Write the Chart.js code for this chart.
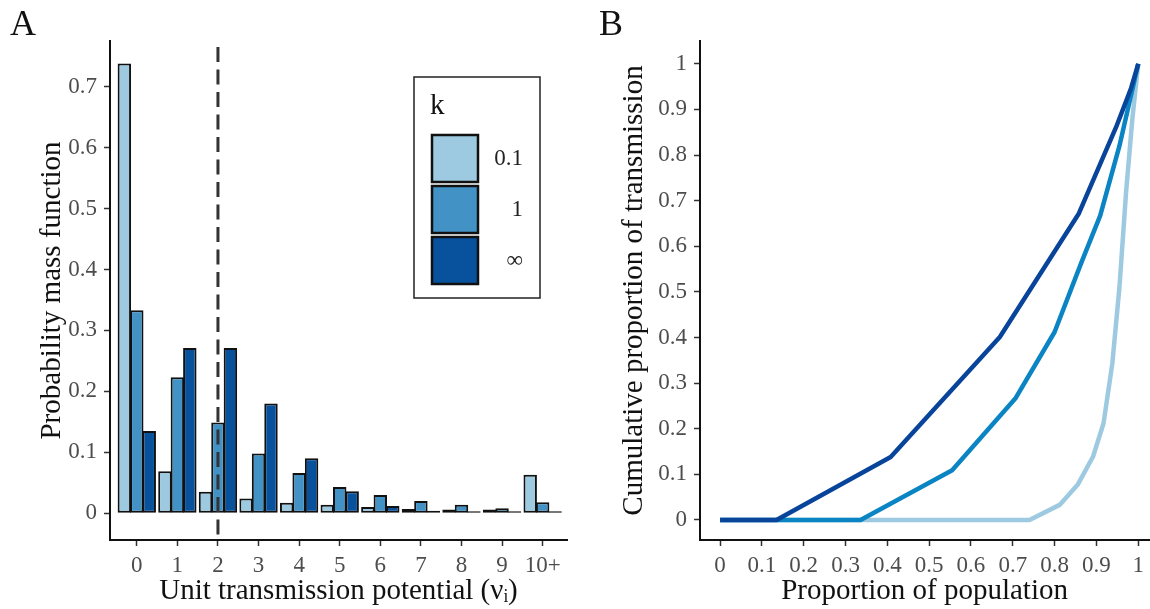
<!DOCTYPE html>
<html>
<head>
<meta charset="utf-8">
<script src="https://cdn.jsdelivr.net/npm/chart.js@4.4.1/dist/chart.umd.min.js"></script>
<style>
  html, body { margin: 0; padding: 0; background: #fff; }
  #wrap { position: relative; width: 1150px; height: 609px; overflow: hidden; }
  canvas { position: absolute; top: 0; }
  #chartA { left: 0; }
  #chartB { left: 580px; }
  .letter { position: absolute; top: 5px; font-family: "Liberation Serif", serif; font-size: 36px; line-height: 36px; color: #111; }
</style>
</head>
<body>
<div id="wrap">
  <canvas id="chartA" width="580" height="609"></canvas>
  <canvas id="chartB" width="570" height="609"></canvas>
  <div class="letter" style="left:10px">A</div>
  <div class="letter" style="left:599px">B</div>
</div>
<script>
// -------------------------------
// Daten Panel A (Balken)
// -------------------------------
const xLabels = ["0", "1", "2", "3", "4", "5", "6", "7", "8", "9", "10+"];
const kLabels = ["0.1", "1", "\u221E"];
const pmfK01 = [0.738, 0.069, 0.035, 0.024, 0.017, 0.014, 0.010, 0.007, 0.006, 0.006, 0.063];
const pmfK1 = [0.333, 0.223, 0.149, 0.098, 0.066, 0.043, 0.030, 0.020, 0.014, 0.008, 0.018];
const pmfKinf = [0.135, 0.271, 0.271, 0.180, 0.090, 0.036, 0.012, 0.004, 0.001, 0.0003, 0.0001];
const yTicksA = [0, 0.1, 0.2, 0.3, 0.4, 0.5, 0.6, 0.7];
const meanValue = 2;

// -------------------------------
// Daten Panel B (Linien)
// -------------------------------
const popKinf = [0, 0.135, 0.408, 0.669, 0.858, 0.947, 0.983, 1];
const cumKinf = [0, 0, 0.138, 0.401, 0.672, 0.861, 0.947, 1];
const popK1 = [0, 0.336, 0.555, 0.706, 0.800, 0.863, 0.909, 0.955, 1];
const cumK1 = [0, 0, 0.109, 0.266, 0.412, 0.562, 0.667, 0.82, 1];
const popK01 = [0, 0.74, 0.812, 0.855, 0.892, 0.917, 0.938, 0.955, 0.971, 0.986, 1];
const cumK01 = [0, 0, 0.033, 0.077, 0.139, 0.212, 0.343, 0.51, 0.72, 0.88, 1];
const xTicksB = [0, 0.1, 0.2, 0.3, 0.4, 0.5, 0.6, 0.7, 0.8, 0.9, 1];
const yTicksB = [0, 0.1, 0.2, 0.3, 0.4, 0.5, 0.6, 0.7, 0.8, 0.9, 1];

const barColors = ["#9ecae1", "#4292c6", "#08519c"];
const lineColors = ["#9ecae1", "#0b84c4", "#08459a"];

Chart.defaults.font.family = '"Liberation Serif", "Times New Roman", serif';
Chart.defaults.animation = false;

const tickFont = { size: 23 };
const titleFont = { size: 29 };

function axisBase(ticksArr, labelFn) {
    return {
        type: "linear",
        offset: false,
        afterBuildTicks: s => { s.ticks = ticksArr.map(v => ({ value: v })); },
        grid: { drawOnChartArea: false, drawTicks: true, tickLength: 6, tickColor: "#333", tickWidth: 1.5, offset: false },
        border: { display: true, color: "#111", width: 2 },
        ticks: { font: tickFont, color: "#4d4d4d", autoSkip: false, maxRotation: 0, callback: labelFn }
    };
}

// -------------------------------
// Plugins Panel A
// -------------------------------
const meanLinePlugin = {
    id: "meanLine",
    afterDatasetsDraw(chart) {
        const { ctx, chartArea, scales } = chart;
        const x = scales.x.getPixelForValue(meanValue);
        ctx.save();
        ctx.strokeStyle = "#333";
        ctx.lineWidth = 3;
        ctx.setLineDash([15, 7.5]);
        ctx.lineDashOffset = 17;
        ctx.beginPath();
        ctx.moveTo(x, chartArea.bottom);
        ctx.lineTo(x, chartArea.top);
        ctx.stroke();
        ctx.restore();
    }
};

const kLegendPlugin = {
    id: "kLegend",
    afterDraw(chart) {
        const ctx = chart.ctx;
        ctx.save();
        ctx.strokeStyle = "#222";
        ctx.lineWidth = 1.5;
        ctx.strokeRect(414, 77, 126, 221);
        ctx.fillStyle = "#111";
        ctx.font = '29px "Liberation Serif", serif';
        ctx.textBaseline = "alphabetic";
        ctx.textAlign = "left";
        ctx.fillText("k", 430, 114);
        kLabels.forEach((lab, i) => {
            const y = 135 + i * 51;
            ctx.fillStyle = barColors[i];
            ctx.fillRect(432, y, 46, 47);
            ctx.strokeStyle = "#111";
            ctx.lineWidth = 2.5;
            ctx.strokeRect(432, y, 46, 47);
            ctx.fillStyle = "#222";
            ctx.font = '23px "Liberation Serif", serif';
            ctx.textAlign = "right";
            ctx.textBaseline = "middle";
            ctx.fillText(lab, 523, y + 24);
        });
        ctx.restore();
    }
};

// -------------------------------
// Panel A
// -------------------------------
const pmfSeries = [pmfK01, pmfK1, pmfKinf];

const xA = axisBase(xLabels.map((_, i) => i), (v, i) => xLabels[i]);
xA.min = -0.66;
xA.max = 10.6;
xA.ticks.padding = 6;
xA.afterFit = s => { s.height = 69; };
xA.title = { display: true, text: "Unit transmission potential (\u03BD\u1D62)", font: titleFont, color: "#111", padding: { top: 0, bottom: 0 } };

const yA = axisBase(yTicksA, v => (v === 0 ? "0" : v.toFixed(1)));
yA.min = -0.044;
yA.max = 0.775;
yA.ticks.padding = 7;
yA.afterFit = s => { s.width = 110; };
yA.title = { display: true, text: "Probability mass function", font: titleFont, color: "#111", padding: { top: 35, bottom: 0 } };

new Chart(document.getElementById("chartA"), {
    type: "bar",
    data: {
        datasets: pmfSeries.map((arr, i) => ({
            label: kLabels[i],
            data: arr.map((v, j) => ({ x: j, y: v })),
            backgroundColor: barColors[i],
            borderColor: "#111",
            borderWidth: 2,
            borderSkipped: false,
            minBarLength: 2,
            categoryPercentage: 0.92,
            barPercentage: 1.08
        }))
    },
    options: {
        responsive: false,
        layout: { padding: { top: 41, right: 13, left: 0, bottom: 0 } },
        plugins: { legend: { display: false }, tooltip: { enabled: false } },
        scales: { x: xA, y: yA }
    },
    plugins: [meanLinePlugin, kLegendPlugin]
});

// -------------------------------
// Panel B
// -------------------------------
const xB = axisBase(xTicksB, v => String(v));
xB.min = -0.048;
xB.max = 1.026;
xB.ticks.padding = 6;
xB.afterFit = s => { s.height = 69; };
xB.title = { display: true, text: "Proportion of population", font: titleFont, color: "#111", padding: { top: 0, bottom: 0 } };

const yB = axisBase(yTicksB, v => String(v));
yB.min = -0.044;
yB.max = 1.05;
yB.ticks.padding = 7;
yB.afterFit = s => { s.width = 120; };
yB.title = { display: true, text: "Cumulative proportion of transmission", font: titleFont, color: "#111", padding: { top: 37, bottom: 0 } };

const curves = [
    { pop: popKinf, cum: cumKinf, color: lineColors[2] },
    { pop: popK1, cum: cumK1, color: lineColors[1] },
    { pop: popK01, cum: cumK01, color: lineColors[0] }
];

new Chart(document.getElementById("chartB"), {
    type: "line",
    data: {
        datasets: curves.map(c => ({
            data: c.pop.map((p, j) => ({ x: p, y: c.cum[j] })),
            borderColor: c.color,
            borderWidth: 4.5,
            pointRadius: 0,
            tension: 0,
            fill: false,
            borderCapStyle: "butt",
            borderJoinStyle: "round"
        }))
    },
    options: {
        responsive: false,
        layout: { padding: { top: 41, right: 0, left: 0, bottom: 0 } },
        plugins: { legend: { display: false }, tooltip: { enabled: false } },
        scales: { x: xB, y: yB }
    }
});
</script>
</body>
</html>
